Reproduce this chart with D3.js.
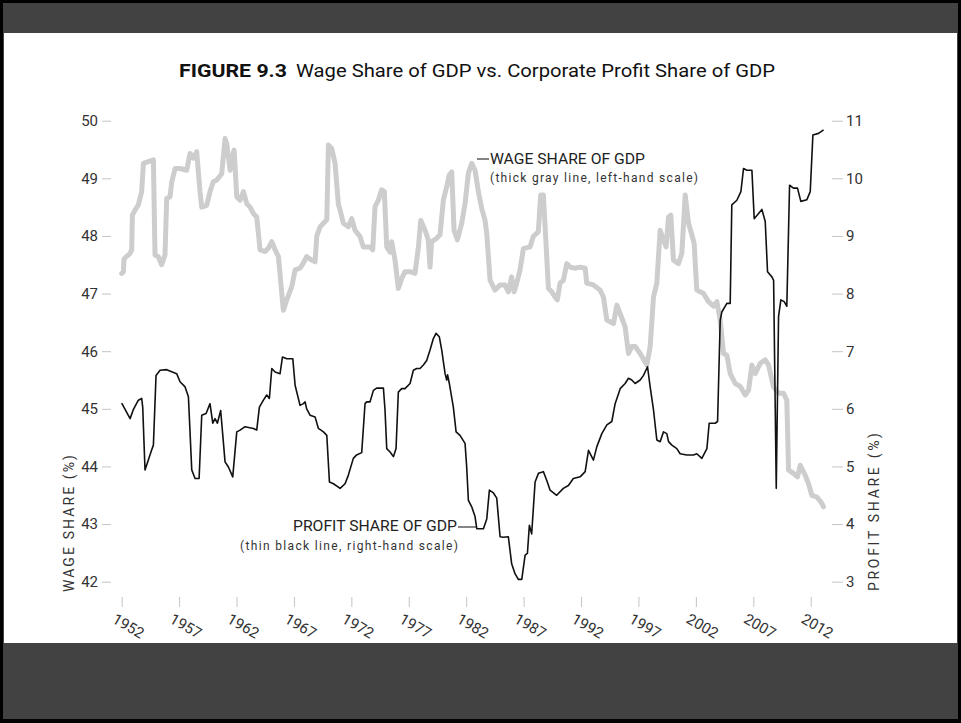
<!DOCTYPE html>
<html lang="en">
<head>
<meta charset="UTF-8">
<title>Wage Share of GDP vs. Corporate Profit Share of GDP</title>
<script src="https://cdn.jsdelivr.net/npm/d3@7"></script>
<style>
  html, body { margin: 0; padding: 0; background: #000; }
  svg { display: block; font-family: Roboto, "Liberation Sans", sans-serif; }
  .tick line { stroke: #c4c4c4; }
  .tick text { fill: #333; }
</style>
</head>
<body>
<svg width="961" height="723"></svg>
<script>
// values (year as decimal, quarterly-ish)
var wageYears = [1952.0,1952.15,1952.2,1952.73,1952.87,1952.93,1953.16,1953.45,1953.74,1953.89,1954.76,1954.9,1955.19,1955.48,1955.77,1955.92,1956.21,1956.36,1956.65,1957.08,1957.66,1957.95,1958.24,1958.53,1958.82,1958.97,1959.4,1959.69,1959.98,1960.28,1960.71,1961.0,1961.15,1961.44,1961.58,1961.79,1962.02,1962.31,1962.6,1962.89,1963.18,1963.47,1963.76,1964.05,1964.49,1964.78,1965.07,1965.36,1965.65,1965.94,1966.08,1966.37,1966.81,1967.1,1967.53,1967.82,1968.11,1968.55,1968.84,1968.99,1969.28,1969.57,1969.86,1970.0,1970.29,1970.58,1970.87,1971.02,1971.3,1971.74,1972.03,1972.32,1972.75,1973.04,1973.62,1973.86,1974.06,1974.35,1974.64,1974.87,1975.08,1975.37,1975.51,1975.8,1976.09,1976.38,1976.67,1977.11,1977.54,1977.84,1978.04,1978.42,1978.7,1978.85,1978.99,1979.43,1979.72,1980.01,1980.3,1980.53,1980.74,1980.94,1981.23,1981.61,1981.9,1982.19,1982.48,1982.77,1983.06,1983.35,1983.64,1983.79,1984.08,1984.51,1984.95,1985.38,1985.67,1985.96,1986.17,1986.4,1986.69,1986.98,1987.56,1987.84,1988.28,1988.49,1988.72,1988.95,1989.16,1989.45,1989.74,1989.94,1990.17,1990.46,1990.76,1991.05,1991.48,1991.92,1992.36,1992.5,1993.08,1993.66,1993.95,1994.25,1994.54,1994.83,1995.12,1995.41,1995.84,1996.13,1996.42,1996.71,1997.15,1997.73,1998.02,1998.31,1998.6,1998.89,1999.18,1999.41,1999.62,1999.82,2000.05,2000.49,2000.78,2001.07,2001.36,2001.65,2001.85,2002.08,2002.67,2003.1,2003.54,2003.83,2004.12,2004.41,2004.7,2004.99,2005.42,2005.86,2006.3,2006.59,2006.88,2007.17,2007.6,2008.04,2008.33,2008.76,2009.2,2009.63,2009.92,2010.07,2010.5,2010.85,2011.09,2011.52,2011.81,2012.1,2012.54,2012.97,2013.12];
var wageValues = [47.35,47.38,47.6,47.7,47.76,48.36,48.45,48.54,48.77,49.26,49.32,47.67,47.64,47.5,47.67,48.65,48.68,48.94,49.17,49.17,49.14,49.43,49.35,49.46,48.77,48.5,48.53,48.77,48.94,48.97,49.08,49.69,49.6,49.14,49.32,49.49,48.68,48.62,48.77,48.56,48.5,48.39,48.33,47.76,47.73,47.79,47.9,47.76,47.64,47.0,46.71,46.89,47.12,47.41,47.44,47.53,47.64,47.58,47.55,48.0,48.16,48.22,48.28,49.58,49.52,49.26,48.55,48.45,48.22,48.16,48.3,48.1,47.99,47.81,47.81,47.76,48.51,48.62,48.8,48.77,47.81,47.72,47.9,47.58,47.09,47.26,47.38,47.38,47.35,47.81,48.27,48.1,47.93,47.46,47.9,47.96,48.02,48.62,48.85,49.06,49.11,48.1,47.93,48.22,48.56,49.09,49.26,49.14,48.77,48.48,48.27,48.04,47.23,47.06,47.15,47.15,47.03,47.29,47.03,47.18,47.41,47.78,47.81,47.99,48.07,48.71,48.71,47.87,47.09,47.03,46.94,46.89,47.18,47.23,47.52,47.46,47.44,47.46,47.44,47.18,47.15,47.06,46.94,46.54,46.51,46.48,46.8,46.65,46.42,45.96,46.08,46.08,45.96,45.76,46.08,46.94,47.18,48.1,47.93,47.81,48.33,48.36,47.58,47.52,47.7,48.71,48.22,48.02,47.87,47.06,47.0,46.86,46.78,46.86,46.54,45.96,45.93,45.61,45.44,45.39,45.24,45.32,45.76,45.61,45.79,45.85,45.76,45.38,45.27,45.27,45.15,43.94,43.88,43.82,44.02,43.85,43.7,43.5,43.47,43.36,43.3];

var profitYears = [1952.0,1952.73,1953.0,1953.45,1953.74,1953.83,1954.03,1954.6,1954.76,1954.99,1955.34,1955.92,1956.79,1957.08,1957.52,1957.81,1958.1,1958.39,1958.74,1958.97,1959.35,1959.69,1959.93,1960.13,1960.33,1960.62,1961.0,1961.29,1961.67,1962.02,1962.31,1962.74,1963.47,1963.76,1963.99,1964.34,1964.63,1964.86,1965.07,1965.36,1965.79,1966.0,1966.37,1966.9,1967.1,1967.53,1967.82,1967.97,1968.11,1968.4,1968.84,1969.13,1969.57,1969.86,1970.09,1970.44,1971.02,1971.45,1971.74,1972.17,1972.46,1972.9,1973.19,1973.33,1973.62,1973.92,1974.2,1974.79,1974.93,1975.08,1975.37,1975.66,1975.89,1976.09,1976.38,1976.67,1977.11,1977.4,1977.69,1977.98,1978.27,1978.56,1978.85,1979.14,1979.37,1979.66,1979.87,1980.16,1980.3,1980.38,1980.53,1980.88,1981.12,1981.46,1981.9,1982.04,1982.19,1982.48,1982.77,1982.92,1983.5,1983.79,1984.02,1984.37,1984.66,1984.95,1985.24,1985.67,1985.96,1986.25,1986.54,1986.84,1987.13,1987.33,1987.5,1987.7,1988.0,1988.29,1988.72,1989.01,1989.3,1989.88,1990.46,1990.9,1991.33,1991.92,1992.36,1992.65,1993.08,1993.37,1993.81,1994.25,1994.68,1994.97,1995.41,1995.84,1996.13,1996.42,1996.71,1997.15,1997.44,1997.79,1998.02,1998.31,1998.6,1998.89,1999.18,1999.47,1999.62,1999.91,2000.34,2000.63,2001.21,2001.79,2002.08,2002.52,2002.96,2003.16,2003.68,2003.89,2004.12,2004.26,2004.7,2004.99,2005.13,2005.57,2005.92,2006.15,2006.45,2006.88,2007.08,2007.46,2007.75,2008.04,2008.24,2008.62,2008.77,2009.0,2009.2,2009.4,2009.69,2009.92,2010.16,2010.5,2010.85,2011.14,2011.67,2011.96,2012.19,2012.68,2013.12];
var profitValues = [6.1,5.83,5.98,6.15,6.18,6.03,4.94,5.28,5.37,6.58,6.67,6.68,6.61,6.47,6.38,6.21,4.94,4.79,4.79,5.89,5.92,6.09,5.75,5.83,5.75,5.97,5.08,4.99,4.82,5.6,5.63,5.69,5.66,5.63,6.03,6.15,6.24,6.18,6.7,6.64,6.61,6.9,6.87,6.87,6.41,6.06,6.09,6.12,6.0,5.89,5.86,5.66,5.6,5.54,4.73,4.7,4.62,4.7,4.85,5.14,5.2,5.24,6.09,6.12,6.12,6.32,6.36,6.36,5.98,5.31,5.25,5.17,5.31,6.29,6.35,6.35,6.44,6.67,6.7,6.7,6.76,6.84,7.02,7.22,7.31,7.25,7.02,6.61,6.5,6.59,6.44,6.03,5.6,5.54,5.4,5.0,4.41,4.3,4.13,3.92,3.92,4.09,4.59,4.54,4.45,3.78,3.77,3.78,3.31,3.14,3.04,3.04,3.46,3.49,3.98,3.83,4.73,4.88,4.91,4.76,4.59,4.5,4.62,4.67,4.79,4.82,4.91,5.28,5.11,5.34,5.57,5.72,5.78,6.09,6.35,6.44,6.53,6.5,6.44,6.5,6.58,6.73,6.38,5.98,5.46,5.43,5.6,5.57,5.43,5.37,5.31,5.22,5.2,5.2,5.22,5.14,5.31,5.75,5.75,5.78,7.54,7.68,7.83,7.83,9.54,9.62,9.77,10.17,10.14,10.14,9.3,9.39,9.46,9.25,8.38,8.29,8.23,4.62,7.6,7.89,7.86,7.78,9.88,9.83,9.83,9.6,9.63,9.77,10.75,10.78,10.84];

var yearTicks = [1952,1957,1962,1967,1972,1977,1982,1987,1992,1997,2002,2007,2012];
var wageTicks = [42,43,44,45,46,47,48,49,50];
var profitTicks = [3,4,5,6,7,8,9,10,11];

var svg = d3.select("svg");

// frame: black edge, dark bands, white page
svg.append("rect").attr("width", 961).attr("height", 723).attr("fill", "#000");
svg.append("rect").attr("x", 3).attr("y", 3).attr("width", 955).attr("height", 716).attr("fill", "#424242");
svg.append("rect").attr("x", 4).attr("y", 33).attr("width", 953).attr("height", 610).attr("fill", "#fff");

var x = d3.scaleLinear().domain([1952, 2012]).range([121.7, 810.7]);
var yL = d3.scaleLinear().domain([42, 50]).range([581.7, 120.7]);
var yR = d3.scaleLinear().domain([3, 11]).range([581.7, 120.7]);

// title
svg.append("text").attr("x", 179).attr("y", 77)
    .attr("font-size", 19).attr("font-weight", "bold").attr("fill", "#111")
    .attr("textLength", 108).attr("lengthAdjust", "spacingAndGlyphs")
    .text("FIGURE 9.3");
svg.append("text").attr("x", 296).attr("y", 77)
    .attr("font-size", 19).attr("fill", "#111")
    .attr("textLength", 479).attr("lengthAdjust", "spacingAndGlyphs")
    .text("Wage Share of GDP vs. Corporate Profit Share of GDP");

// axes
var leftAxis = svg.append("g").attr("transform", "translate(111,0)")
    .call(d3.axisLeft(yL).tickValues(wageTicks).tickSize(9).tickPadding(4).tickFormat(d3.format("d")));
var rightAxis = svg.append("g").attr("transform", "translate(832,0)")
    .call(d3.axisRight(yR).tickValues(profitTicks).tickSize(11).tickPadding(3).tickFormat(d3.format("d")));
var bottomAxis = svg.append("g").attr("transform", "translate(0,597)")
    .call(d3.axisBottom(x).tickValues(yearTicks).tickSize(10).tickFormat(d3.format("d")));

[leftAxis, rightAxis, bottomAxis].forEach(function(g) {
    g.select(".domain").remove();
    g.attr("font-family", null).attr("font-size", 15);
});

bottomAxis.selectAll(".tick text")
    .attr("font-size", 15)
    .attr("text-anchor", "start")
    .attr("y", 0).attr("dy", 0)
    .attr("transform", "translate(-11,25) rotate(30)");

// axis titles
svg.append("text")
    .attr("transform", "translate(74,592) rotate(-90)")
    .attr("font-size", 14).attr("fill", "#333")
    .attr("textLength", 137).attr("lengthAdjust", "spacing")
    .text("WAGE SHARE (%)");
svg.append("text")
    .attr("transform", "translate(879,591) rotate(-90)")
    .attr("font-size", 14).attr("fill", "#333")
    .attr("textLength", 158).attr("lengthAdjust", "spacing")
    .text("PROFIT SHARE (%)");

// lines
var wageData = wageYears.map(function(d, i) { return [d, wageValues[i]]; });
var profitData = profitYears.map(function(d, i) { return [d, profitValues[i]]; });

svg.append("path").datum(wageData)
    .attr("fill", "none").attr("stroke", "#cdcdcd").attr("stroke-width", 5)
    .attr("stroke-linejoin", "round").attr("stroke-linecap", "round")
    .attr("d", d3.line().x(function(d) { return x(d[0]); }).y(function(d) { return yL(d[1]); }));

svg.append("path").datum(profitData)
    .attr("fill", "none").attr("stroke", "#111").attr("stroke-width", 1.6)
    .attr("stroke-linejoin", "round")
    .attr("d", d3.line().x(function(d) { return x(d[0]); }).y(function(d) { return yR(d[1]); }));

// annotations
svg.append("line").attr("x1", 477).attr("x2", 489).attr("y1", 159).attr("y2", 159)
    .attr("stroke", "#333").attr("stroke-width", 1.2);
svg.append("text").attr("x", 490).attr("y", 164)
    .attr("font-size", 14).attr("fill", "#222")
    .attr("textLength", 155).attr("lengthAdjust", "spacingAndGlyphs")
    .text("WAGE SHARE OF GDP");
svg.append("text").attr("x", 490).attr("y", 182)
    .attr("font-size", 12).attr("fill", "#333")
    .attr("textLength", 208).attr("lengthAdjust", "spacing")
    .text("(thick gray line, left-hand scale)");

svg.append("line").attr("x1", 458).attr("x2", 476).attr("y1", 527).attr("y2", 527)
    .attr("stroke", "#333").attr("stroke-width", 1.2);
svg.append("text").attr("x", 293).attr("y", 531)
    .attr("font-size", 14).attr("fill", "#222")
    .attr("textLength", 164).attr("lengthAdjust", "spacingAndGlyphs")
    .text("PROFIT SHARE OF GDP");
svg.append("text").attr("x", 240).attr("y", 550)
    .attr("font-size", 12).attr("fill", "#333")
    .attr("textLength", 218).attr("lengthAdjust", "spacing")
    .text("(thin black line, right-hand scale)");
</script>
</body>
</html>
